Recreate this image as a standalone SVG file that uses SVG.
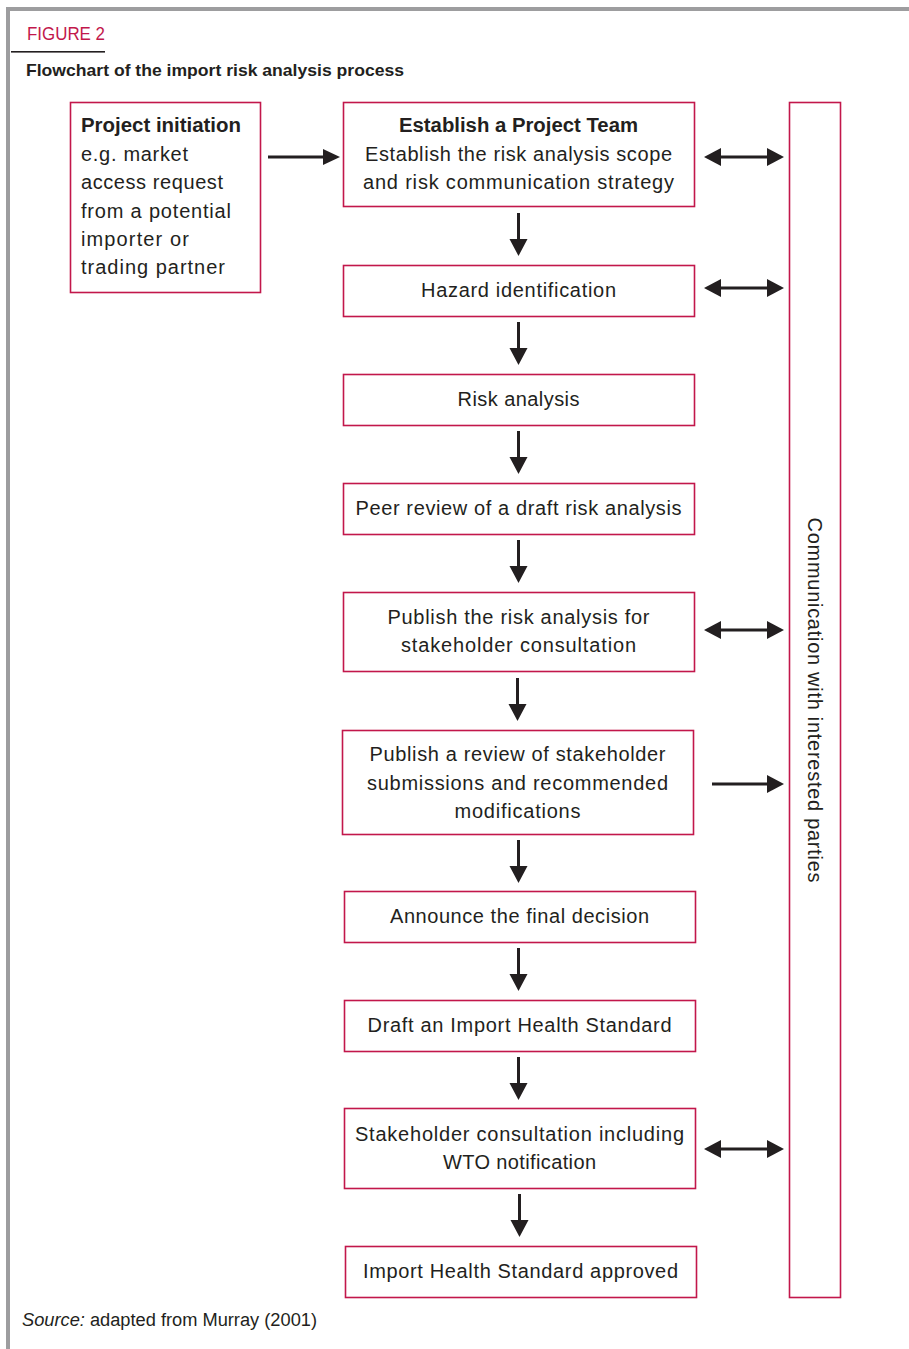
<svg xmlns="http://www.w3.org/2000/svg" width="909" height="1349" viewBox="0 0 909 1349">
<style>
.box{fill:#fff;stroke:#c2174b;stroke-width:1.6}
.t{font-family:"Liberation Sans",Arial,sans-serif;font-size:20px;fill:#231f20;text-anchor:middle}
.tl{font-family:"Liberation Sans",Arial,sans-serif;font-size:20px;fill:#231f20}
.b{font-weight:bold}
.ln{stroke:#231f20;stroke-width:3;fill:none}
.hd{fill:#231f20}
</style>
<rect x="0" y="0" width="909" height="1349" fill="#fff"/>
<g id="frame">
<rect x="6" y="7" width="903" height="4" fill="#9d9d9f"/>
<rect x="6" y="7" width="4" height="1342" fill="#9d9d9f"/>
<text x="27" y="40" font-family="'Liberation Sans',Arial,sans-serif" font-size="18" fill="#c2174b" textLength="78" lengthAdjust="spacingAndGlyphs">FIGURE 2</text>
<rect x="11" y="51" width="94" height="1.6" fill="#231f20"/>
<text x="26" y="76" font-family="'Liberation Sans',Arial,sans-serif" font-size="17" font-weight="bold" fill="#231f20" textLength="378" lengthAdjust="spacingAndGlyphs">Flowchart of the import risk analysis process</text>
<text x="22" y="1326" font-family="'Liberation Sans',Arial,sans-serif" font-size="18" fill="#231f20" textLength="295" lengthAdjust="spacingAndGlyphs"><tspan font-style="italic">Source:</tspan> adapted from Murray (2001)</text>
</g>
<g id="initiation">
<rect class="box" x="70.5" y="102.5" width="190" height="190"/>
<text class="tl b" x="81" y="132" textLength="160" lengthAdjust="spacingAndGlyphs">Project initiation</text>
<text class="tl" x="81" y="161" textLength="107" lengthAdjust="spacing">e.g. market</text>
<text class="tl" x="81" y="189" textLength="142" lengthAdjust="spacing">access request</text>
<text class="tl" x="81" y="218" textLength="150" lengthAdjust="spacing">from a potential</text>
<text class="tl" x="81" y="246" textLength="108" lengthAdjust="spacing">importer or</text>
<text class="tl" x="81" y="274" textLength="144" lengthAdjust="spacing">trading partner</text>
</g>
<g id="team">
<rect class="box" x="343.5" y="102.5" width="351" height="104"/>
<text class="t b" x="518.5" y="132" textLength="239" lengthAdjust="spacingAndGlyphs">Establish a Project Team</text>
<text class="t" x="518.5" y="161" textLength="307" lengthAdjust="spacing">Establish the risk analysis scope</text>
<text class="t" x="518.5" y="189" textLength="311" lengthAdjust="spacing">and risk communication strategy</text>
</g>
<g id="hazard">
<rect class="box" x="343.5" y="265.5" width="351" height="51"/>
<text class="t" x="518.5" y="297" textLength="195" lengthAdjust="spacing">Hazard identification</text>
</g>
<g id="risk">
<rect class="box" x="343.5" y="374.5" width="351" height="51"/>
<text class="t" x="518.5" y="406" textLength="122" lengthAdjust="spacing">Risk analysis</text>
</g>
<g id="peer">
<rect class="box" x="343.5" y="483.5" width="351" height="51"/>
<text class="t" x="518.5" y="515" textLength="326" lengthAdjust="spacing">Peer review of a draft risk analysis</text>
</g>
<g id="publish1">
<rect class="box" x="343.5" y="592.5" width="351" height="79"/>
<text class="t" x="518.5" y="624" textLength="262" lengthAdjust="spacing">Publish the risk analysis for</text>
<text class="t" x="518.5" y="652" textLength="235" lengthAdjust="spacing">stakeholder consultation</text>
</g>
<g id="publish2">
<rect class="box" x="342.5" y="730.5" width="351" height="104"/>
<text class="t" x="517.5" y="761" textLength="296" lengthAdjust="spacing">Publish a review of stakeholder</text>
<text class="t" x="517.5" y="790" textLength="301" lengthAdjust="spacing">submissions and recommended</text>
<text class="t" x="517.5" y="818" textLength="126" lengthAdjust="spacing">modifications</text>
</g>
<g id="announce">
<rect class="box" x="344.5" y="891.5" width="351" height="51"/>
<text class="t" x="519.5" y="923" textLength="259" lengthAdjust="spacing">Announce the final decision</text>
</g>
<g id="draft">
<rect class="box" x="344.5" y="1000.5" width="351" height="51"/>
<text class="t" x="519.5" y="1032" textLength="304" lengthAdjust="spacing">Draft an Import Health Standard</text>
</g>
<g id="consult">
<rect class="box" x="344.5" y="1108.5" width="351" height="80"/>
<text class="t" x="519.5" y="1141" textLength="329" lengthAdjust="spacing">Stakeholder consultation including</text>
<text class="t" x="519.5" y="1169" textLength="153" lengthAdjust="spacing">WTO notification</text>
</g>
<g id="approved">
<rect class="box" x="345.5" y="1246.5" width="351" height="51"/>
<text class="t" x="520.5" y="1278" textLength="315" lengthAdjust="spacing">Import Health Standard approved</text>
</g>
<g id="communication">
<rect class="box" x="789.5" y="102.5" width="51" height="1195"/>
<text class="t" x="808" y="700" transform="rotate(90 808 700)" textLength="365" lengthAdjust="spacing">Communication with interested parties</text>
</g>
<g id="connectors">
<line class="ln" x1="268" y1="157" x2="325" y2="157"/>
<polygon class="hd" points="323,149 340,157 323,165"/>
<line class="ln" x1="518.5" y1="213" x2="518.5" y2="242"/>
<polygon class="hd" points="509.5,239 527.5,239 518.5,256"/>
<line class="ln" x1="518.5" y1="322" x2="518.5" y2="351"/>
<polygon class="hd" points="509.5,348 527.5,348 518.5,365"/>
<line class="ln" x1="518.5" y1="431" x2="518.5" y2="460"/>
<polygon class="hd" points="509.5,457 527.5,457 518.5,474"/>
<line class="ln" x1="518.5" y1="540" x2="518.5" y2="569"/>
<polygon class="hd" points="509.5,566 527.5,566 518.5,583"/>
<line class="ln" x1="517.5" y1="678" x2="517.5" y2="707"/>
<polygon class="hd" points="508.5,704 526.5,704 517.5,721"/>
<line class="ln" x1="518.5" y1="840" x2="518.5" y2="869"/>
<polygon class="hd" points="509.5,866 527.5,866 518.5,883"/>
<line class="ln" x1="518.5" y1="948" x2="518.5" y2="977"/>
<polygon class="hd" points="509.5,974 527.5,974 518.5,991"/>
<line class="ln" x1="518.5" y1="1057" x2="518.5" y2="1086"/>
<polygon class="hd" points="509.5,1083 527.5,1083 518.5,1100"/>
<line class="ln" x1="519.5" y1="1194" x2="519.5" y2="1223"/>
<polygon class="hd" points="510.5,1220 528.5,1220 519.5,1237"/>
<line class="ln" x1="718" y1="157" x2="769" y2="157"/>
<polygon class="hd" points="721,148 704,157 721,166"/>
<polygon class="hd" points="767,148 784,157 767,166"/>
<line class="ln" x1="718" y1="288" x2="769" y2="288"/>
<polygon class="hd" points="721,279 704,288 721,297"/>
<polygon class="hd" points="767,279 784,288 767,297"/>
<line class="ln" x1="718" y1="630" x2="769" y2="630"/>
<polygon class="hd" points="721,621 704,630 721,639"/>
<polygon class="hd" points="767,621 784,630 767,639"/>
<line class="ln" x1="712" y1="784" x2="769" y2="784"/>
<polygon class="hd" points="767,775 784,784 767,793"/>
<line class="ln" x1="718" y1="1149" x2="769" y2="1149"/>
<polygon class="hd" points="721,1140 704,1149 721,1158"/>
<polygon class="hd" points="767,1140 784,1149 767,1158"/>
</g>
</svg>
